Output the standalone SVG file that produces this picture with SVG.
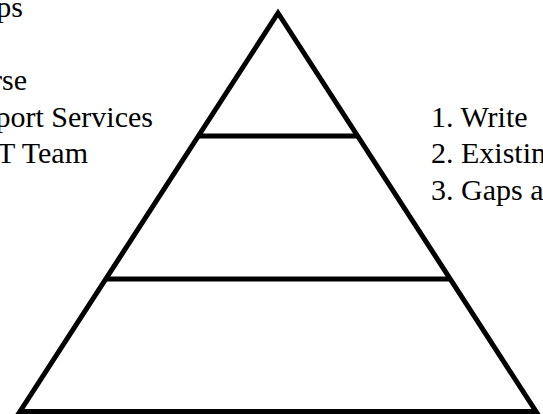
<svg xmlns="http://www.w3.org/2000/svg" width="543" height="414" viewBox="0 0 543 414">
<style>
.t{font-family:"Liberation Serif","Times New Roman",serif;font-size:30px;fill:#000}
.s{fill:none;stroke:#000;stroke-width:5}
</style>
<rect width="543" height="414" fill="#fff"/>
<g id="pyramid">
<polygon class="s" points="278,13 20,411.5 536,411.5" stroke-linejoin="miter"/>
</g>
<g id="connectors">
<line class="s" x1="197" y1="136" x2="358" y2="136"/>
<line class="s" x1="105" y1="279" x2="450" y2="279"/>
</g>
<g id="left-labels">
<text class="t" x="23" y="17" text-anchor="end">ps</text>
<text class="t" x="27" y="90" text-anchor="end">rse</text>
<text class="t" x="153" y="127" text-anchor="end">port Services</text>
<text class="t" x="88" y="163" text-anchor="end">T Team</text>
</g>
<g id="right-labels">
<text class="t" x="431" y="127">1. Write</text>
<text class="t" x="431" y="163">2. Existin</text>
<text class="t" x="431" y="200">3. Gaps a</text>
</g>
</svg>
